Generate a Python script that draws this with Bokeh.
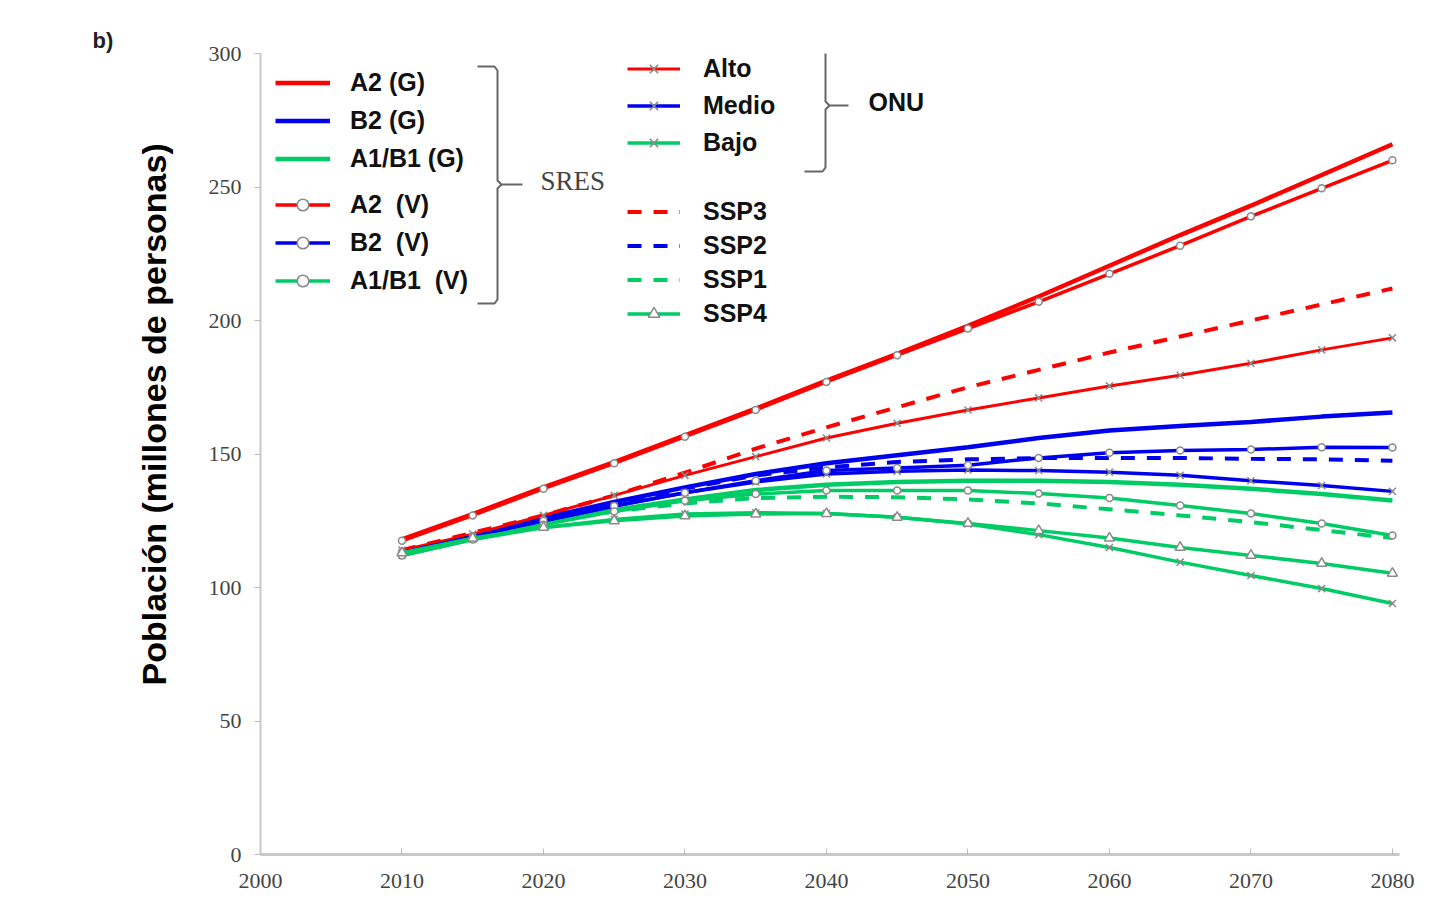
from bokeh.plotting import figure
from bokeh.models import Range1d, FixedTicker, Legend, LegendItem, Label, Title
from bokeh.embed import file_html
from bokeh.resources import INLINE

# ---------------- data ----------------
years = [2010, 2015, 2020, 2025, 2030, 2035, 2040, 2045, 2050, 2055, 2060, 2065, 2070, 2075, 2080]

# SRES (G) - lines without markers
a2_g   = [118, 127.5, 137.5, 147, 157, 167, 177.5, 187.5, 198, 209, 220.5, 232, 243, 254.5, 266]
b2_g   = [113, 119.5, 126, 132, 137.5, 142.5, 146.5, 149.5, 152.5, 156, 158.8, 160.5, 162, 164, 165.5]
a1b1_g = [112.5, 118.5, 124, 129, 133, 136.5, 138.5, 139.5, 140, 140, 139.5, 138.5, 137, 135, 132.6]

# SRES (V) - lines with circle markers
a2_v   = [117.5, 127, 137, 146.5, 156.5, 166.5, 177, 187, 197, 207, 217.5, 228, 239, 249.5, 260]
b2_v   = [113, 119, 125, 130.5, 135.5, 140, 143.8, 144.8, 145.8, 148.5, 150.5, 151.3, 151.7, 152.5, 152.4]
a1b1_v = [112, 118, 123.5, 128.5, 132.5, 135, 136.3, 136.3, 136.3, 135.2, 133.5, 130.7, 127.7, 124, 119.5]

# ONU - lines with x markers
alto  = [114, 120, 127, 134.5, 142, 149, 156, 161.5, 166.5, 171, 175.5, 179.5, 184, 189, 193.5]
medio = [113, 119, 125, 130.5, 135.5, 139.5, 142.5, 143.5, 144, 143.8, 143.2, 142, 140, 138.2, 136]
bajo  = [112, 118, 122.5, 125.5, 127.5, 128, 127.7, 126.3, 123.8, 119.8, 115, 109.5, 104.5, 99.6, 94]

# SSP
ssp3 = [114, 120.5, 127, 134.5, 143, 152, 160, 167.5, 175, 181.5, 188, 194, 200, 206, 212]
ssp2 = [113, 119, 125, 131, 137, 142, 145, 147, 148, 148.5, 148.5, 148.5, 148.2, 148, 147.5]
ssp1 = [112.5, 118.5, 124, 128.5, 131.5, 133.5, 134, 133.8, 133, 131.5, 129.3, 127, 124.5, 121.5, 118.5]
ssp4 = [113, 118.5, 122.5, 125, 126.8, 127.5, 127.7, 126.3, 124, 121.3, 118.5, 115, 112, 109, 105.3]

x_ticks = [2000, 2010, 2020, 2030, 2040, 2050, 2060, 2070, 2080]
y_ticks = [0, 50, 100, 150, 200, 250, 300]

sres_g_labels = ["A2 (G)", "B2 (G)", "A1/B1 (G)"]
sres_v_labels = ["A2  (V)", "B2  (V)", "A1/B1  (V)"]
onu_labels = ["Alto", "Medio", "Bajo"]
ssp_labels = ["SSP3", "SSP2", "SSP1", "SSP4"]

RED = "#ff0000"
BLUE = "#0000ee"
GREEN = "#00cc66"
MK = "#8a8a8a"

# ---------------- layout ----------------
W, H = 1426, 899
BL, BR, BT, BB = 260, 27, 53, 45
FW = W - BL - BR
FH = H - BT - BB
X0, X1 = 2000, 2080.5
Y0, Y1 = 0, 300
FL_PX = BL
FT_PX = BT


def dx(px):
    return X0 + (px - FL_PX) * (X1 - X0) / FW


def dy(py):
    return Y1 - (py - FT_PX) * (Y1 - Y0) / FH


p = figure(width=W, height=H, output_backend="svg", toolbar_location=None,
           x_range=Range1d(X0, X1), y_range=Range1d(Y0, Y1),
           min_border_left=BL, min_border_right=BR, min_border_top=BT, min_border_bottom=BB)
p.outline_line_color = None
p.xgrid.visible = False
p.ygrid.visible = False
p.background_fill_color = "white"

p.xaxis.ticker = FixedTicker(ticks=x_ticks)
p.yaxis.ticker = FixedTicker(ticks=y_ticks)
for ax in (p.xaxis, p.yaxis):
    ax.axis_line_color = "#c8c8c8"
    ax.major_tick_line_color = "#bbbbbb"
    ax.minor_tick_line_color = None
    ax.major_label_text_font = "Liberation Serif"
    ax.major_label_text_font_size = "22px"
    ax.major_label_text_color = "#444444"
p.xaxis.axis_line_width = 3
p.yaxis.axis_line_width = 2
p.xaxis.major_tick_in = 6
p.xaxis.major_tick_out = 0
p.yaxis.major_tick_in = 0
p.yaxis.major_tick_out = 6
p.xaxis.major_label_standoff = 19
p.yaxis.major_label_standoff = 13

# panel label "b)"
p.title.text = "b)"
p.title.align = "left"
p.title.offset = 92 - BL
p.title.standoff = 1
p.title.text_font = "Liberation Sans"
p.title.text_font_style = "bold"
p.title.text_font_size = "22px"
p.title.text_color = "#222222"

# y axis title, placed higher than the frame centre as in the original
ytitle = Title(text="Población (millones de personas)", align="left",
               offset=(FT_PX + FH) - 685, standoff=65,
               text_font="Liberation Sans", text_font_style="bold",
               text_font_size="34px", text_color="#000000")
p.add_layout(ytitle, "left")

# ---------------- series ----------------
def plain(vals, color, width, dash="solid"):
    return p.line(years, vals, line_color=color, line_width=width, line_dash=dash)


def marked(vals, color, width, marker, size):
    r1 = p.line(years, vals, line_color=color, line_width=width)
    r2 = p.scatter(years, vals, marker=marker, size=size, line_color=MK,
                   fill_color="white", line_width=1.5)
    return [r1, r2]

r_ssp3 = [plain(ssp3, RED, 4, "14 12")]
r_ssp2 = [plain(ssp2, BLUE, 4, "14 12")]
r_ssp1 = [plain(ssp1, GREEN, 4, "14 12")]

r_a2g = [plain(a2_g, RED, 4.5)]
r_b2g = [plain(b2_g, BLUE, 4.5)]
r_a1g = [plain(a1b1_g, GREEN, 4.5)]

r_alto = marked(alto, RED, 3, "x", 10)
r_medio = marked(medio, BLUE, 3.5, "x", 10)
r_bajo = marked(bajo, GREEN, 3.5, "x", 10)

r_a2v = marked(a2_v, RED, 3.5, "circle", 7)
r_b2v = marked(b2_v, BLUE, 3.5, "circle", 7)
r_a1v = marked(a1b1_v, GREEN, 3.5, "circle", 7)

r_ssp4 = marked(ssp4, GREEN, 3.5, "triangle", 10)

# ---------------- legends ----------------
ROW = 29


def make_legend(labels, rends, x_px, first_center_px, glyph_w, standoff, pitch):
    n = len(labels)
    spacing = pitch - ROW
    height = n * ROW + (n - 1) * spacing
    top_px = first_center_px - ROW / 2
    bottom_px = top_px + height
    loc = (x_px - FL_PX, (FT_PX + FH) - bottom_px)
    lg = Legend(items=[LegendItem(label=l, renderers=r) for l, r in zip(labels, rends)],
                location=loc, orientation="vertical",
                glyph_width=glyph_w, glyph_height=ROW, label_height=ROW,
                label_standoff=standoff, spacing=spacing, padding=0, margin=0,
                border_line_alpha=0, background_fill_alpha=0,
                label_text_font="Liberation Sans", label_text_font_style="bold",
                label_text_font_size="25px", label_text_color="#111111")
    p.add_layout(lg, "center")

make_legend(sres_g_labels, [r_a2g, r_b2g, r_a1g], 275, 82, 55, 20, 38)
make_legend(sres_v_labels, [r_a2v, r_b2v, r_a1v], 275, 204, 55, 20, 38)
make_legend(onu_labels, [r_alto, r_medio, r_bajo], 627, 68, 53, 23, 37)
make_legend(ssp_labels, [r_ssp3, r_ssp2, r_ssp1, r_ssp4], 627, 211, 53, 23, 34)

# ---------------- brackets ----------------
def bracket(x_left, x_v, top, bottom, mid, x_tip):
    xs1 = [x_left, x_v - 3, x_v, x_v, x_v + 4, x_tip]
    ys1 = [top, top, top + 4, mid - 4, mid, mid]
    xs2 = [x_v + 4, x_v, x_v, x_v - 3, x_left]
    ys2 = [mid, mid + 4, bottom - 4, bottom, bottom]
    p.multi_line([[dx(v) for v in xs1], [dx(v) for v in xs2]],
                 [[dy(v) for v in ys1], [dy(v) for v in ys2]],
                 line_color="#666666", line_width=2)

bracket(477, 497, 66, 303, 184, 522)
bracket(804, 825, 48, 171, 105, 848)

# ---------------- texts ----------------
p.add_layout(Label(x=dx(540), y=dy(180), text="SRES", text_font="Liberation Serif",
                   text_font_size="27px", text_color="#444444", text_baseline="middle",
                   text_align="left"))
p.add_layout(Label(x=dx(868), y=dy(101), text="ONU", text_font="Liberation Sans",
                   text_font_style="bold", text_font_size="25px", text_color="#111111",
                   text_baseline="middle", text_align="left"))

open("out.html", "w").write(file_html(p, INLINE))
